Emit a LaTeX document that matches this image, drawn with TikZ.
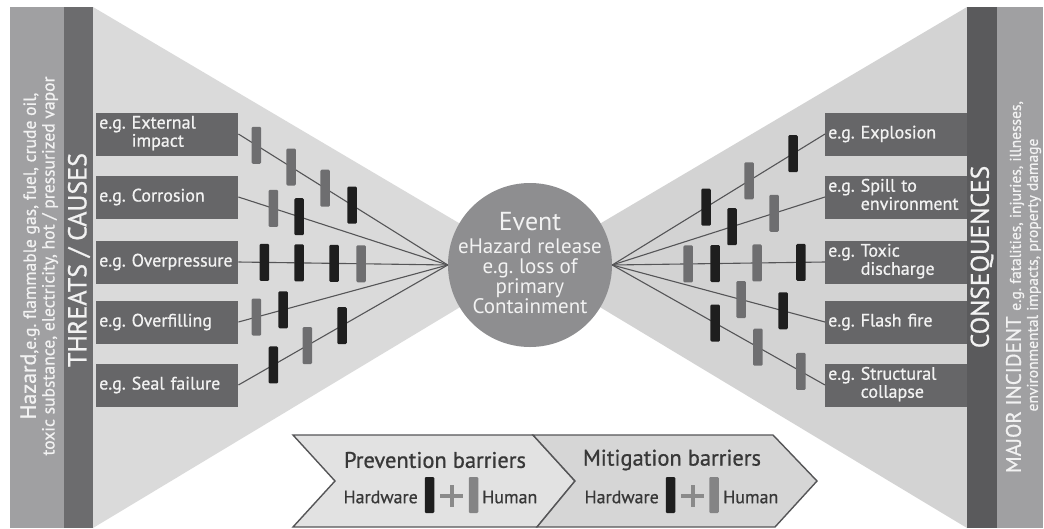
\documentclass[tikz,border=0pt]{standalone}
\usepackage{fontspec}
\setmainfont{PT Sans}
\newfontfamily\medfont{PT Sans}[FakeBold=0.8]
\frenchspacing
\definecolor{trileft}{HTML}{DADADA}
\definecolor{triright}{HTML}{D3D3D3}
\definecolor{bandlight}{HTML}{A0A0A2}
\definecolor{bandleft}{HTML}{6C6C6E}
\definecolor{bandright}{HTML}{5A5A5C}
\definecolor{boxgray}{HTML}{666668}
\definecolor{boxtext}{HTML}{F2F2F2}
\definecolor{circgray}{HTML}{8E8E90}
\definecolor{linegray}{HTML}{555557}
\definecolor{hwcol}{HTML}{1E1E1E}
\definecolor{hucol}{HTML}{6E6E70}
\definecolor{chevA}{HTML}{E2E2E2}
\definecolor{chevB}{HTML}{D6D6D6}
\definecolor{chevtext}{HTML}{383838}
\definecolor{pluscol}{HTML}{8A8A8A}
\newcommand{\fs}[1]{\fontsize{#1}{#1}\selectfont}
% "e.g." followed by a two-line label whose lines start at the same point
\newcommand{\eglines}[2]{e.g.\ \begin{tabular}[t]{@{}l@{}}#1\\#2\end{tabular}}
\begin{document}
\begin{tikzpicture}[x=1pt,y=-1pt,
  lbl/.style={rectangle, fill=boxgray, text=boxtext, minimum width=142pt,
    minimum height=43pt, text width=136pt, inner xsep=3pt, inner ysep=0pt,
    align=left, font=\medfont\fontsize{18}{18}\selectfont, anchor=west,
    execute at begin node={\hyphenpenalty=10000 \renewcommand{\arraystretch}{1}}},
  conn/.style={draw=linegray, line width=1.1pt},
  hw/.style={rectangle, fill=hwcol, minimum width=9.5pt, minimum height=37pt,
    inner sep=0pt, rounded corners=1.2pt},
  hu/.style={hw, fill=hucol},
  sidetext/.style={rotate=90, text=boxtext, inner sep=0pt},
  chev/.style={draw=linegray, line width=1.4pt},
  ctext/.style={text=chevtext, inner sep=0pt}]
\useasboundingbox (0,0) rectangle (1044,528);

% funnel backgrounds
\fill[trileft] (93,7) -- (530,265) -- (93,528) -- cycle;
\fill[triright] (967,7) -- (530,265) -- (967,528) -- cycle;

% side bands
\fill[bandlight] (10,7) rectangle (64,528);
\fill[bandleft] (64,7) rectangle (93,528);
\fill[bandright] (967,7) rectangle (997,528);
\fill[bandlight] (997,7) rectangle (1043,528);

\node[sidetext] (hz1) at (30,256) {\medfont\fs{22}Hazard\fs{17.6},e.g. flammable gas, fuel, crude oil,};
\node[sidetext] (hz2) at (50,266) {\medfont\fs{17.6}toxic substance, electricity, hot / pressurized vapor};
\node[sidetext] (thr) at (79,260) {\medfont\fs{26}THREATS / CAUSES};
\node[sidetext] (csq) at (982,257) {\medfont\fs{25.5}CONSEQUENCES};
\node[sidetext] (maj1) at (1015,287) {\medfont\fs{21}MAJOR INCIDENT \fs{15.5}e.g. fatalities, injuries, illnesses,};
\node[sidetext] (maj2) at (1034,275) {\medfont\fs{15.5}environmental impacts, property damage};

% central event
\node[circle, fill=circgray, minimum size=164pt, inner sep=0pt] (ev) at (530,265) {};
\node[text=boxtext, inner sep=0pt] (evt) at (530,222) {\fs{26}Event};
\node[text=boxtext, inner sep=0pt, align=center, font=\fontsize{21}{20}\selectfont,
  anchor=north] (evd) at (530,239) {eHazard release\\ e.g. loss of\\ primary\\ Containment};

% threats
\node[lbl] (t1) at (96,134) {\eglines{External}{impact}};
\node[lbl] (t2) at (96,197) {e.g. Corrosion};
\node[lbl] (t3) at (96,262) {e.g. Overpressure};
\node[lbl] (t4) at (96,322) {e.g. Overfilling};
\node[lbl] (t5) at (96,385) {e.g. Seal failure};

% consequences
\node[lbl] (c1) at (825,134) {e.g. Explosion};
\node[lbl] (c2) at (825,197) {\eglines{Spill to}{environment}};
\node[lbl] (c3) at (825,262) {\eglines{Toxic}{discharge}};
\node[lbl] (c4) at (825,322) {e.g. Flash fire};
\node[lbl] (c5) at (825,385) {\eglines{Structural}{collapse}};

% threat lines with prevention barriers
\draw[conn] (t1.east) -- (ev.west)
  node[hu,pos=.086]{} node[hu,pos=.252]{} node[hu,pos=.414]{} node[hw,pos=.543]{};
\draw[conn] (t2.east) -- (ev.west)
  node[hu,pos=.167]{} node[hw,pos=.29]{};
\draw[conn] (t3.east) -- (ev.west)
  node[hw,pos=.124]{} node[hw,pos=.29]{} node[hw,pos=.457]{} node[hu,pos=.586]{};
\draw[conn] (t4.east) -- (ev.west)
  node[hu,pos=.086]{} node[hw,pos=.214]{};
\draw[conn] (t5.east) -- (ev.west)
  node[hw,pos=.167]{} node[hu,pos=.329]{} node[hw,pos=.495]{};

% consequence lines with mitigation barriers
\draw[conn] (ev.east) -- (c1.west)
  node[hw,pos=.441]{} node[hu,pos=.643]{} node[hw,pos=.85]{};
\draw[conn] (ev.east) -- (c2.west)
  node[hw,pos=.563]{} node[hu,pos=.761]{};
\draw[conn] (ev.east) -- (c3.west)
  node[hu,pos=.357]{} node[hw,pos=.484]{} node[hu,pos=.681]{} node[hw,pos=.887]{};
\draw[conn] (ev.east) -- (c4.west)
  node[hu,pos=.606]{} node[hw,pos=.803]{};
\draw[conn] (ev.east) -- (c5.west)
  node[hw,pos=.484]{} node[hu,pos=.685]{} node[hu,pos=.887]{};

% barrier legend chevrons
\filldraw[chev, fill=chevA] (293,435) -- (533,435) -- (575,481) -- (537,527)
  -- (293,527) -- (335,481) -- cycle;
\filldraw[chev, fill=chevB] (533,435) -- (773,435) -- (817,481) -- (775,527)
  -- (537,527) -- (575,481) -- cycle;

\node[ctext] (pv) at (435,460) {\medfont\fs{22.5}Prevention barriers};
\node[ctext] (mt) at (672,460) {\medfont\fs{22.5}Mitigation barriers};

\node[hw, minimum height=36pt] (pvhw) at (429.5,495) {};
\node[hu, minimum height=36pt, fill=hucol!85!white] (pvhu) at (473.5,495) {};
\node[ctext, anchor=east] (pvhwt) at (418,497) {\medfont\fs{18}Hardware};
\node[ctext, anchor=west] (pvhut) at (482,497) {\medfont\fs{18}Human};
\draw[pluscol, line width=4pt] (440,496) -- (463,496) (451.5,485) -- (451.5,507);

\node[hw, minimum height=36pt] (mthw) at (670.5,495) {};
\node[hu, minimum height=36pt, fill=hucol!85!white] (mthu) at (714,495) {};
\node[ctext, anchor=east] (mthwt) at (659,497) {\medfont\fs{18}Hardware};
\node[ctext, anchor=west] (mthut) at (723,497) {\medfont\fs{18}Human};
\draw[pluscol, line width=4pt] (681,496) -- (704,496) (692.5,485) -- (692.5,507);
\end{tikzpicture}
\end{document}
